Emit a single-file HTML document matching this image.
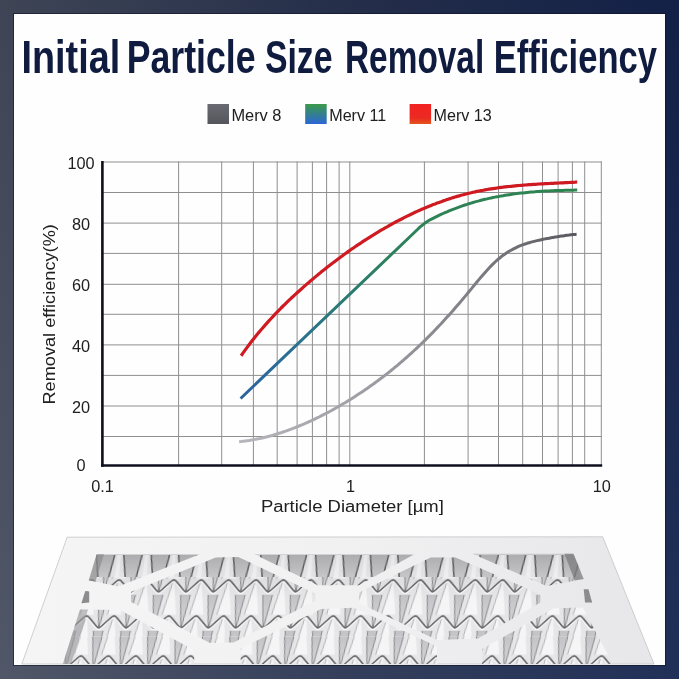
<!DOCTYPE html>
<html><head><meta charset="utf-8">
<style>
html,body{margin:0;padding:0;width:679px;height:679px;overflow:hidden}
body{background:linear-gradient(to bottom,rgba(0,0,10,0.12),rgba(255,255,255,0.05)),linear-gradient(to right,#474e60 0%,#2a3553 50%,#15254f 100%)}
svg{position:absolute;left:0;top:0;display:block}
text{font-family:"Liberation Sans",Arial,sans-serif}
</style></head><body>
<svg width="679" height="679" viewBox="0 0 679 679">
<defs>
  <linearGradient id="gGray" gradientUnits="userSpaceOnUse" x1="239" y1="0" x2="577" y2="0">
    <stop offset="0" stop-color="#b6b6bc"/><stop offset="0.45" stop-color="#98989e"/><stop offset="0.75" stop-color="#77777d"/><stop offset="1" stop-color="#58585f"/>
  </linearGradient>
  <linearGradient id="gBlue" gradientUnits="userSpaceOnUse" x1="240" y1="0" x2="577" y2="0">
    <stop offset="0" stop-color="#2a62a2"/><stop offset="0.119" stop-color="#2a6c98"/><stop offset="0.208" stop-color="#2a7488"/><stop offset="0.312" stop-color="#2a7a72"/><stop offset="0.415" stop-color="#2d7f62"/><stop offset="0.534" stop-color="#2e8256"/><stop offset="1" stop-color="#2e8450"/>
  </linearGradient>
  <linearGradient id="sw1" x1="0" y1="0" x2="0" y2="1"><stop offset="0" stop-color="#6a6a72"/><stop offset="1" stop-color="#55555c"/></linearGradient>
  <linearGradient id="sw2" x1="0" y1="0" x2="0" y2="1"><stop offset="0" stop-color="#3a9a48"/><stop offset="1" stop-color="#2c66d6"/></linearGradient>
  <linearGradient id="sw3" x1="0" y1="0" x2="0" y2="1"><stop offset="0" stop-color="#f22222"/><stop offset="0.7" stop-color="#ec2a22"/><stop offset="1" stop-color="#e2561c"/></linearGradient>
  <pattern id="pleat" patternUnits="userSpaceOnUse" width="27.4" height="36" patternTransform="translate(204.3,558.8) skewX(-8)">
    <rect x="0" y="0" width="27.4" height="36" fill="#e6e6e8"/>
    <g transform="translate(0,-36)">
      <polygon points="8.7,-1 18.7,-1 13.7,34" fill="url(#vgrad)"/>
      <polyline points="8.7,-1 13.7,34 18.7,-1" fill="none" stroke="#808082" stroke-width="0.9"/>
      <polygon points="0,20 -7,56 7,56" fill="#f5f5f6"/>
      <polygon points="27.4,20 20.4,56 34.4,56" fill="#f5f5f6"/>
      <line x1="0" y1="20" x2="-7" y2="56" stroke="#a4a4a6" stroke-width="0.8"/>
      <line x1="27.4" y1="20" x2="20.4" y2="56" stroke="#a4a4a6" stroke-width="0.8"/>
      <path d="M-13.7,34 L-3,23 Q0,19.6 3,23 L10.9,31.2 Q13.7,34.6 16.5,31.2 L24.4,23 Q27.4,19.6 30.4,23 L41.1,34" fill="none" stroke="#fbfbfb" stroke-width="1.3" transform="translate(0,1.8)"/>
      <path d="M-13.7,34 L-3,23 Q0,19.6 3,23 L10.9,31.2 Q13.7,34.6 16.5,31.2 L24.4,23 Q27.4,19.6 30.4,23 L41.1,34" fill="none" stroke="#646466" stroke-width="1.5"/>
    </g><g transform="translate(0,0)">
      <polygon points="8.7,-1 18.7,-1 13.7,34" fill="url(#vgrad)"/>
      <polyline points="8.7,-1 13.7,34 18.7,-1" fill="none" stroke="#808082" stroke-width="0.9"/>
      <polygon points="0,20 -7,56 7,56" fill="#f5f5f6"/>
      <polygon points="27.4,20 20.4,56 34.4,56" fill="#f5f5f6"/>
      <line x1="0" y1="20" x2="-7" y2="56" stroke="#a4a4a6" stroke-width="0.8"/>
      <line x1="27.4" y1="20" x2="20.4" y2="56" stroke="#a4a4a6" stroke-width="0.8"/>
      <path d="M-13.7,34 L-3,23 Q0,19.6 3,23 L10.9,31.2 Q13.7,34.6 16.5,31.2 L24.4,23 Q27.4,19.6 30.4,23 L41.1,34" fill="none" stroke="#fbfbfb" stroke-width="1.3" transform="translate(0,1.8)"/>
      <path d="M-13.7,34 L-3,23 Q0,19.6 3,23 L10.9,31.2 Q13.7,34.6 16.5,31.2 L24.4,23 Q27.4,19.6 30.4,23 L41.1,34" fill="none" stroke="#646466" stroke-width="1.5"/>
    </g>
  </pattern>
  <pattern id="pleat2" patternUnits="userSpaceOnUse" width="27.4" height="36" patternTransform="translate(203.7,562.8) skewX(-8)">
    <rect x="0" y="0" width="27.4" height="36" fill="#e6e6e8"/>
    <g transform="translate(0,-36)">
      <polygon points="8.7,-1 18.7,-1 13.7,34" fill="url(#vgrad)"/>
      <polyline points="8.7,-1 13.7,34 18.7,-1" fill="none" stroke="#808082" stroke-width="0.9"/>
      <polygon points="0,20 -7,56 7,56" fill="#f5f5f6"/>
      <polygon points="27.4,20 20.4,56 34.4,56" fill="#f5f5f6"/>
      <line x1="0" y1="20" x2="-7" y2="56" stroke="#a4a4a6" stroke-width="0.8"/>
      <line x1="27.4" y1="20" x2="20.4" y2="56" stroke="#a4a4a6" stroke-width="0.8"/>
      <path d="M-13.7,34 L-3,23 Q0,19.6 3,23 L10.9,31.2 Q13.7,34.6 16.5,31.2 L24.4,23 Q27.4,19.6 30.4,23 L41.1,34" fill="none" stroke="#fbfbfb" stroke-width="1.3" transform="translate(0,1.8)"/>
      <path d="M-13.7,34 L-3,23 Q0,19.6 3,23 L10.9,31.2 Q13.7,34.6 16.5,31.2 L24.4,23 Q27.4,19.6 30.4,23 L41.1,34" fill="none" stroke="#646466" stroke-width="1.5"/>
    </g><g transform="translate(0,0)">
      <polygon points="8.7,-1 18.7,-1 13.7,34" fill="url(#vgrad)"/>
      <polyline points="8.7,-1 13.7,34 18.7,-1" fill="none" stroke="#808082" stroke-width="0.9"/>
      <polygon points="0,20 -7,56 7,56" fill="#f5f5f6"/>
      <polygon points="27.4,20 20.4,56 34.4,56" fill="#f5f5f6"/>
      <line x1="0" y1="20" x2="-7" y2="56" stroke="#a4a4a6" stroke-width="0.8"/>
      <line x1="27.4" y1="20" x2="20.4" y2="56" stroke="#a4a4a6" stroke-width="0.8"/>
      <path d="M-13.7,34 L-3,23 Q0,19.6 3,23 L10.9,31.2 Q13.7,34.6 16.5,31.2 L24.4,23 Q27.4,19.6 30.4,23 L41.1,34" fill="none" stroke="#fbfbfb" stroke-width="1.3" transform="translate(0,1.8)"/>
      <path d="M-13.7,34 L-3,23 Q0,19.6 3,23 L10.9,31.2 Q13.7,34.6 16.5,31.2 L24.4,23 Q27.4,19.6 30.4,23 L41.1,34" fill="none" stroke="#646466" stroke-width="1.5"/>
    </g>
  </pattern>
  <pattern id="pleat0" patternUnits="userSpaceOnUse" width="27.4" height="40" patternTransform="translate(201.5,555) skewX(-6)">
    <rect x="0" y="0" width="27.4" height="40" fill="url(#gap0)"/>
    <polygon points="-4.5,0 4.5,0 8.5,24 -8.5,24" fill="#ebebed"/>
    <polygon points="22.9,0 31.9,0 35.9,24 18.9,24" fill="#ebebed"/>
    <polygon points="-1.5,0 1.5,0 2.5,24 -2.5,24" fill="#f7f7f8"/>
    <polygon points="25.9,0 28.9,0 29.9,24 24.9,24" fill="#f7f7f8"/>
    <polyline points="8.5,24 4.5,0" fill="none" stroke="#5a5a5c" stroke-width="1.4"/>
    <polyline points="18.9,24 22.9,0" fill="none" stroke="#5a5a5c" stroke-width="1.4"/>
      </pattern>
  <clipPath id="topclip"><rect x="0" y="540" width="679" height="37"/></clipPath>
  <clipPath id="midclip"><rect x="0" y="577" width="679" height="59.5"/></clipPath>
  <clipPath id="lowclip"><rect x="0" y="636.5" width="679" height="40"/></clipPath>
  <linearGradient id="faceL" x1="0" y1="0" x2="1" y2="0"><stop offset="0" stop-color="#f1f1f2"/><stop offset="1" stop-color="#d9d9db"/></linearGradient>
  <linearGradient id="faceR" x1="0" y1="0" x2="1" y2="0"><stop offset="0" stop-color="#cfcfd1"/><stop offset="1" stop-color="#e9e9eb"/></linearGradient>
  <linearGradient id="vgrad" x1="0" y1="0" x2="0" y2="1"><stop offset="0" stop-color="#c2c2c5"/><stop offset="1" stop-color="#d8d8da"/></linearGradient>
  <linearGradient id="frameg" gradientUnits="userSpaceOnUse" x1="22" y1="0" x2="654" y2="0"><stop offset="0" stop-color="#f5f5f6"/><stop offset="0.5" stop-color="#f1f1f2"/><stop offset="1" stop-color="#e7e7e9"/></linearGradient>
  <linearGradient id="gap0" x1="0" y1="0" x2="0" y2="1"><stop offset="0" stop-color="#b9b9bc"/><stop offset="0.6" stop-color="#cfcfd1"/><stop offset="1" stop-color="#d8d8da"/></linearGradient>
  <linearGradient id="topshade" gradientUnits="userSpaceOnUse" x1="0" y1="554" x2="0" y2="600"><stop offset="0" stop-color="#000" stop-opacity="0.07"/><stop offset="1" stop-color="#000" stop-opacity="0"/></linearGradient>
  <linearGradient id="vshade" x1="0" y1="0" x2="0" y2="1"><stop offset="0" stop-color="#dadadc"/><stop offset="1" stop-color="#b9b9bb"/></linearGradient>
  <clipPath id="inner"><polygon points="96.5,554.5 575.9,554.5 614,664 63,664"/></clipPath>
</defs>
<!-- white panel -->
<rect x="14" y="14" width="651" height="651" fill="#fefefe"/>
<rect x="13.5" y="13.5" width="652" height="652" fill="none" stroke="#0b1020" stroke-opacity="0.55" stroke-width="1"/>

<!-- title -->
<g font-size="46.5" font-weight="bold" fill="#0f1b3f">
<text x="21.5" y="72.6" textLength="98.7" lengthAdjust="spacingAndGlyphs">Initial</text>
<text x="126.7" y="72.6" textLength="128.8" lengthAdjust="spacingAndGlyphs">Particle</text>
<text x="264.9" y="72.6" textLength="67.7" lengthAdjust="spacingAndGlyphs">Size</text>
<text x="345.0" y="72.6" textLength="139.2" lengthAdjust="spacingAndGlyphs">Removal</text>
<text x="493.7" y="72.6" textLength="163.3" lengthAdjust="spacingAndGlyphs">Efficiency</text>
</g>

<!-- legend -->
<rect x="207.5" y="104" width="21.5" height="20" fill="url(#sw1)"/>
<text x="231.4" y="121" font-size="16" fill="#202020" textLength="50.1" lengthAdjust="spacingAndGlyphs">Merv 8</text>
<rect x="305.2" y="104" width="21.5" height="20" fill="url(#sw2)"/>
<text x="329.2" y="121" font-size="16" fill="#202020" textLength="57.1" lengthAdjust="spacingAndGlyphs">Merv 11</text>
<rect x="409.6" y="104" width="21.5" height="20" fill="url(#sw3)"/>
<text x="433.6" y="121" font-size="16" fill="#202020" textLength="58.2" lengthAdjust="spacingAndGlyphs">Merv 13</text>

<!-- grid -->
<g stroke="#8f8f8f" stroke-width="1" shape-rendering="auto">
<line x1="178.6" y1="161.5" x2="178.6" y2="465.5"/>
<line x1="221.7" y1="161.5" x2="221.7" y2="465.5"/>
<line x1="253.4" y1="161.5" x2="253.4" y2="465.5"/>
<line x1="277.2" y1="161.5" x2="277.2" y2="465.5"/>
<line x1="297.1" y1="161.5" x2="297.1" y2="465.5"/>
<line x1="312.4" y1="161.5" x2="312.4" y2="465.5"/>
<line x1="326.6" y1="161.5" x2="326.6" y2="465.5"/>
<line x1="339.1" y1="161.5" x2="339.1" y2="465.5"/>
<line x1="349.8" y1="161.5" x2="349.8" y2="465.5"/>
<line x1="424.4" y1="161.5" x2="424.4" y2="465.5"/>
<line x1="468.1" y1="161.5" x2="468.1" y2="465.5"/>
<line x1="498.5" y1="161.5" x2="498.5" y2="465.5"/>
<line x1="522.7" y1="161.5" x2="522.7" y2="465.5"/>
<line x1="542.5" y1="161.5" x2="542.5" y2="465.5"/>
<line x1="558.1" y1="161.5" x2="558.1" y2="465.5"/>
<line x1="572.4" y1="161.5" x2="572.4" y2="465.5"/>
<line x1="584.7" y1="161.5" x2="584.7" y2="465.5"/>
<line x1="601.3" y1="161.5" x2="601.3" y2="465.5"/>
<line x1="102.4" y1="162.0" x2="602.0" y2="162.0"/>
<line x1="102.4" y1="192.5" x2="602.0" y2="192.5"/>
<line x1="102.4" y1="223.1" x2="602.0" y2="223.1"/>
<line x1="102.4" y1="253.4" x2="602.0" y2="253.4"/>
<line x1="102.4" y1="284.3" x2="602.0" y2="284.3"/>
<line x1="102.4" y1="314.3" x2="602.0" y2="314.3"/>
<line x1="102.4" y1="344.9" x2="602.0" y2="344.9"/>
<line x1="102.4" y1="375.4" x2="602.0" y2="375.4"/>
<line x1="102.4" y1="406.0" x2="602.0" y2="406.0"/>
<line x1="102.4" y1="436.5" x2="602.0" y2="436.5"/>
</g>
<!-- axes -->
<line x1="102.4" y1="161" x2="102.4" y2="466.8" stroke="#0d0f1e" stroke-width="2.6"/>
<line x1="101.1" y1="465.5" x2="602.2" y2="465.5" stroke="#0d0f1e" stroke-width="2.6"/>

<!-- y labels -->
<g font-size="16.3" fill="#202020" text-anchor="middle">
<text x="81" y="471.2">0</text>
<text x="81" y="412.6">20</text>
<text x="81" y="351.5">40</text>
<text x="81" y="290.9">60</text>
<text x="81" y="229.7">80</text>
<text x="81" y="168.6">100</text>
</g>
<!-- x labels -->
<g font-size="16.3" fill="#202020" text-anchor="middle">
<text x="102.6" y="491.6">0.1</text>
<text x="350.5" y="491.6">1</text>
<text x="601.8" y="491.6">10</text>
</g>
<text x="260.9" y="512.4" font-size="17.3" fill="#202020" textLength="183" lengthAdjust="spacingAndGlyphs">Particle Diameter [µm]</text>
<text transform="translate(54.8,404.6) rotate(-90)" x="0" y="0" font-size="17.3" fill="#202020" textLength="180.5" lengthAdjust="spacingAndGlyphs">Removal efficiency(%)</text>

<!-- curves -->
<g fill="none" stroke-width="3" stroke-linejoin="round">
<path d="M239.1 441.8 L241.1 441.6 L243.1 441.3 L245.1 441.1 L247.1 440.8 L249.1 440.5 L251.1 440.1 L253.1 439.8 L255.1 439.4 L257.1 439.0 L259.1 438.6 L261.1 438.2 L263.1 437.7 L265.1 437.2 L267.1 436.7 L269.1 436.2 L271.1 435.7 L273.1 435.1 L275.1 434.5 L277.1 433.9 L279.1 433.3 L281.1 432.7 L283.1 432.0 L285.1 431.3 L287.1 430.6 L289.1 429.9 L291.1 429.2 L293.1 428.4 L295.1 427.6 L297.1 426.8 L299.1 426.0 L301.1 425.2 L303.1 424.4 L305.1 423.5 L307.1 422.6 L309.1 421.7 L311.1 420.8 L313.1 419.9 L315.1 418.9 L317.1 417.9 L319.1 417.0 L321.1 415.9 L323.1 414.9 L325.1 413.9 L327.1 412.8 L329.1 411.8 L331.1 410.7 L333.1 409.6 L335.1 408.5 L337.1 407.3 L339.1 406.2 L341.1 405.0 L343.1 403.8 L345.1 402.7 L347.1 401.4 L349.1 400.2 L351.1 399.0 L353.1 397.7 L355.1 396.4 L357.1 395.1 L359.1 393.8 L361.1 392.5 L363.1 391.2 L365.1 389.8 L367.1 388.4 L369.1 387.0 L371.1 385.6 L373.1 384.2 L375.1 382.7 L377.1 381.3 L379.1 379.8 L381.1 378.3 L383.1 376.8 L385.1 375.2 L387.1 373.7 L389.1 372.1 L391.1 370.5 L393.1 368.9 L395.1 367.2 L397.1 365.6 L399.1 363.9 L401.1 362.2 L403.1 360.5 L405.1 358.7 L407.1 357.0 L409.1 355.2 L411.1 353.4 L413.1 351.5 L415.1 349.7 L417.1 347.8 L419.1 345.9 L421.1 344.0 L423.1 342.1 L425.1 340.1 L427.1 338.1 L429.1 336.1 L431.1 334.1 L433.1 332.1 L435.1 330.0 L437.1 327.9 L439.1 325.8 L441.1 323.7 L443.1 321.5 L445.1 319.3 L447.1 317.1 L449.1 314.9 L451.1 312.7 L453.1 310.4 L455.1 308.1 L457.1 305.8 L459.1 303.5 L461.1 301.1 L463.1 298.8 L465.1 296.4 L467.1 294.0 L469.1 291.5 L471.1 289.1 L473.1 286.6 L475.1 284.2 L477.1 281.8 L479.1 279.4 L481.1 277.0 L483.1 274.7 L485.1 272.4 L487.1 270.2 L489.1 268.0 L491.1 265.9 L493.1 263.9 L495.1 262.0 L497.1 260.2 L499.1 258.5 L501.1 256.8 L503.1 255.3 L505.1 253.9 L507.1 252.6 L509.1 251.3 L511.1 250.2 L513.1 249.1 L515.1 248.1 L517.1 247.1 L519.1 246.2 L521.1 245.4 L523.1 244.7 L525.1 244.0 L527.1 243.3 L529.1 242.7 L531.1 242.1 L533.1 241.6 L535.1 241.1 L537.1 240.6 L539.1 240.2 L541.1 239.8 L543.1 239.3 L545.1 238.9 L547.1 238.5 L549.1 238.2 L551.1 237.8 L553.1 237.4 L555.1 237.1 L557.1 236.8 L559.1 236.4 L561.1 236.1 L563.1 235.9 L565.1 235.6 L567.1 235.3 L569.1 235.1 L571.1 234.8 L573.1 234.6 L575.1 234.4 L576.6 234.3" stroke="url(#gGray)"/>
<path d="M240.6 398.5 L418.0 229.0 L419.9 227.2 L421.8 225.6 L423.6 224.1 L425.5 222.7 L427.3 221.5 L429.2 220.3 L431.0 219.3 L433.0 218.3 L435.0 217.3 L437.0 216.3 L439.0 215.3 L441.0 214.4 L443.0 213.5 L445.0 212.6 L447.0 211.8 L449.0 210.9 L451.0 210.1 L453.0 209.3 L455.0 208.6 L457.0 207.8 L459.0 207.1 L461.0 206.4 L463.0 205.7 L465.0 205.0 L467.0 204.4 L469.0 203.7 L471.0 203.1 L473.0 202.5 L475.0 201.9 L477.0 201.4 L479.0 200.9 L481.0 200.3 L483.0 199.8 L485.0 199.3 L487.0 198.9 L489.0 198.4 L491.0 198.0 L493.0 197.5 L495.0 197.1 L497.0 196.7 L499.0 196.4 L501.0 196.0 L503.0 195.7 L505.0 195.3 L507.0 195.0 L509.0 194.7 L511.0 194.4 L513.0 194.1 L515.0 193.8 L517.0 193.6 L519.0 193.3 L521.0 193.1 L523.0 192.9 L525.0 192.7 L527.0 192.5 L529.0 192.3 L531.0 192.1 L533.0 191.9 L535.0 191.8 L537.0 191.6 L539.0 191.5 L541.0 191.3 L543.0 191.2 L545.0 191.1 L547.0 191.0 L549.0 190.9 L551.0 190.8 L553.0 190.7 L555.0 190.6 L557.0 190.6 L559.0 190.5 L561.0 190.4 L563.0 190.4 L565.0 190.3 L567.0 190.3 L569.0 190.2 L571.0 190.2 L573.0 190.2 L575.0 190.1 L577.0 190.1 L577.2 190.1" stroke="url(#gBlue)"/>
<path d="M241.1 355.7 L243.1 352.9 L245.1 350.1 L247.1 347.4 L249.1 344.7 L251.1 342.1 L253.1 339.5 L255.1 337.0 L257.1 334.6 L259.1 332.1 L261.1 329.8 L263.1 327.4 L265.1 325.1 L267.1 322.9 L269.1 320.6 L271.1 318.5 L273.1 316.3 L275.1 314.2 L277.1 312.1 L279.1 310.1 L281.1 308.0 L283.1 306.0 L285.1 304.1 L287.1 302.1 L289.1 300.2 L291.1 298.3 L293.1 296.5 L295.1 294.6 L297.1 292.8 L299.1 291.0 L301.1 289.2 L303.1 287.4 L305.1 285.6 L307.1 283.9 L309.1 282.2 L311.1 280.4 L313.1 278.8 L315.1 277.1 L317.1 275.4 L319.1 273.8 L321.1 272.1 L323.1 270.5 L325.1 268.9 L327.1 267.3 L329.1 265.8 L331.1 264.2 L333.1 262.7 L335.1 261.2 L337.1 259.7 L339.1 258.2 L341.1 256.7 L343.1 255.2 L345.1 253.8 L347.1 252.4 L349.1 250.9 L351.1 249.5 L353.1 248.2 L355.1 246.8 L357.1 245.4 L359.1 244.1 L361.1 242.8 L363.1 241.4 L365.1 240.1 L367.1 238.9 L369.1 237.6 L371.1 236.3 L373.1 235.1 L375.1 233.8 L377.1 232.6 L379.1 231.4 L381.1 230.2 L383.1 229.1 L385.1 227.9 L387.1 226.8 L389.1 225.6 L391.1 224.5 L393.1 223.4 L395.1 222.3 L397.1 221.3 L399.1 220.2 L401.1 219.2 L403.1 218.2 L405.1 217.1 L407.1 216.1 L409.1 215.2 L411.1 214.2 L413.1 213.3 L415.1 212.3 L417.1 211.4 L419.1 210.5 L421.1 209.6 L423.1 208.8 L425.1 207.9 L427.1 207.1 L429.1 206.2 L431.1 205.4 L433.1 204.6 L435.1 203.9 L437.1 203.1 L439.1 202.4 L441.1 201.7 L443.1 200.9 L445.1 200.3 L447.1 199.6 L449.1 198.9 L451.1 198.3 L453.1 197.6 L455.1 197.0 L457.1 196.4 L459.1 195.9 L461.1 195.3 L463.1 194.8 L465.1 194.2 L467.1 193.7 L469.1 193.2 L471.1 192.8 L473.1 192.3 L475.1 191.9 L477.1 191.4 L479.1 191.0 L481.1 190.6 L483.1 190.3 L485.1 189.9 L487.1 189.5 L489.1 189.2 L491.1 188.9 L493.1 188.6 L495.1 188.3 L497.1 188.0 L499.1 187.7 L501.1 187.4 L503.1 187.2 L505.1 186.9 L507.1 186.7 L509.1 186.5 L511.1 186.3 L513.1 186.1 L515.1 185.9 L517.1 185.7 L519.1 185.5 L521.1 185.3 L523.1 185.2 L525.1 185.0 L527.1 184.8 L529.1 184.7 L531.1 184.6 L533.1 184.4 L535.1 184.3 L537.1 184.2 L539.1 184.0 L541.1 183.9 L543.1 183.8 L545.1 183.7 L547.1 183.6 L549.1 183.5 L551.1 183.4 L553.1 183.3 L555.1 183.2 L557.1 183.1 L559.1 183.0 L561.1 182.9 L563.1 182.8 L565.1 182.7 L567.1 182.6 L569.1 182.5 L571.1 182.4 L573.1 182.3 L575.1 182.2 L577.1 182.0 L577.2 182.0" stroke="#cf1a22" stroke-width="3.2"/>
</g>

<!-- filter image -->
<polygon points="67.2,537.2 602.7,536.8 654,664 21.8,664" fill="url(#frameg)" stroke="#c4c4c6" stroke-width="0.8"/>
<g fill="url(#pleat)" clip-path="url(#midclip)">
  <polygon points="96.7,554.3 199.8,554.3 118.3,586.5 88.7,580.3"/>
  <polygon points="85.3,591 89.2,591.5 89.2,602.5 81.4,603.3"/>
  <polygon points="131,592 215.7,557.6 238.2,556.9 315.4,593.6 315.4,600.7 233.6,642.4 210,643 131,602"/>
  <polygon points="254.4,554.3 414.2,554.3 359,585.3 317.7,585.3"/>
  <polygon points="359,592.4 430.7,557.4 455.5,557.4 540.4,594.4 540.4,602.6 478,638.5 437,640 359,603"/>
  <polygon points="472.4,553.8 573.4,553.8 583.7,579 546.6,586.1"/>
  <polygon points="583.7,589.2 588.5,589.2 592,602.6 585,602.6"/>
  <polygon points="80,609.5 120,609.9 194.2,650.3 194.2,664 62.8,664"/>
  <polygon points="321,609 354,607.7 437,646.4 437,664 240.7,664 240.7,648.5"/>
  <polygon points="553.9,608.3 582.7,607.5 611.4,661.3 612.5,664 482.1,664 482.1,649.1"/>
</g>
<g fill="url(#pleat0)" clip-path="url(#topclip)">
  <polygon points="96.7,554.3 199.8,554.3 118.3,586.5 88.7,580.3"/>
  <polygon points="85.3,591 89.2,591.5 89.2,602.5 81.4,603.3"/>
  <polygon points="131,592 215.7,557.6 238.2,556.9 315.4,593.6 315.4,600.7 233.6,642.4 210,643 131,602"/>
  <polygon points="254.4,554.3 414.2,554.3 359,585.3 317.7,585.3"/>
  <polygon points="359,592.4 430.7,557.4 455.5,557.4 540.4,594.4 540.4,602.6 478,638.5 437,640 359,603"/>
  <polygon points="472.4,553.8 573.4,553.8 583.7,579 546.6,586.1"/>
  <polygon points="583.7,589.2 588.5,589.2 592,602.6 585,602.6"/>
  <polygon points="80,609.5 120,609.9 194.2,650.3 194.2,664 62.8,664"/>
  <polygon points="321,609 354,607.7 437,646.4 437,664 240.7,664 240.7,648.5"/>
  <polygon points="553.9,608.3 582.7,607.5 611.4,661.3 612.5,664 482.1,664 482.1,649.1"/>
</g>
<g fill="url(#pleat2)" clip-path="url(#lowclip)">
  <polygon points="96.7,554.3 199.8,554.3 118.3,586.5 88.7,580.3"/>
  <polygon points="85.3,591 89.2,591.5 89.2,602.5 81.4,603.3"/>
  <polygon points="131,592 215.7,557.6 238.2,556.9 315.4,593.6 315.4,600.7 233.6,642.4 210,643 131,602"/>
  <polygon points="254.4,554.3 414.2,554.3 359,585.3 317.7,585.3"/>
  <polygon points="359,592.4 430.7,557.4 455.5,557.4 540.4,594.4 540.4,602.6 478,638.5 437,640 359,603"/>
  <polygon points="472.4,553.8 573.4,553.8 583.7,579 546.6,586.1"/>
  <polygon points="583.7,589.2 588.5,589.2 592,602.6 585,602.6"/>
  <polygon points="80,609.5 120,609.9 194.2,650.3 194.2,664 62.8,664"/>
  <polygon points="321,609 354,607.7 437,646.4 437,664 240.7,664 240.7,648.5"/>
  <polygon points="553.9,608.3 582.7,607.5 611.4,661.3 612.5,664 482.1,664 482.1,649.1"/>
</g>
<g fill="url(#topshade)">
  <polygon points="96.7,554.3 199.8,554.3 118.3,586.5 88.7,580.3"/>
  <polygon points="254.4,554.3 414.2,554.3 359,585.3 317.7,585.3"/>
  <polygon points="472.4,553.8 573.4,553.8 583.7,579 546.6,586.1"/>
  <polygon points="131,592 215.7,557.6 238.2,556.9 315.4,593.6 315.4,600.7 233.6,642.4 210,643 131,602"/>
  <polygon points="359,592.4 430.7,557.4 455.5,557.4 540.4,594.4 540.4,602.6 478,638.5 437,640 359,603"/>
</g>
<polygon points="96.7,554.3 104,554.3 95.5,581.5 88.7,580.3" fill="#8a8a8c" opacity="0.7"/>
<polygon points="85.3,591 89.2,591.5 89.2,602.5 81.4,603.3" fill="#8c8c8e"/>
<polygon points="583.7,589.2 588.5,589.2 592,602.6 585,602.6" fill="#8c8c8e"/>
<polygon points="564.4,553.8 573.4,553.8 583.7,579 574.7,580.5" fill="#7c7c7e" opacity="0.75"/>
<polygon points="80,609.5 88,609.5 71,664 62.8,664" fill="#9a9a9c" opacity="0.6"/>
</svg>
</body></html>
